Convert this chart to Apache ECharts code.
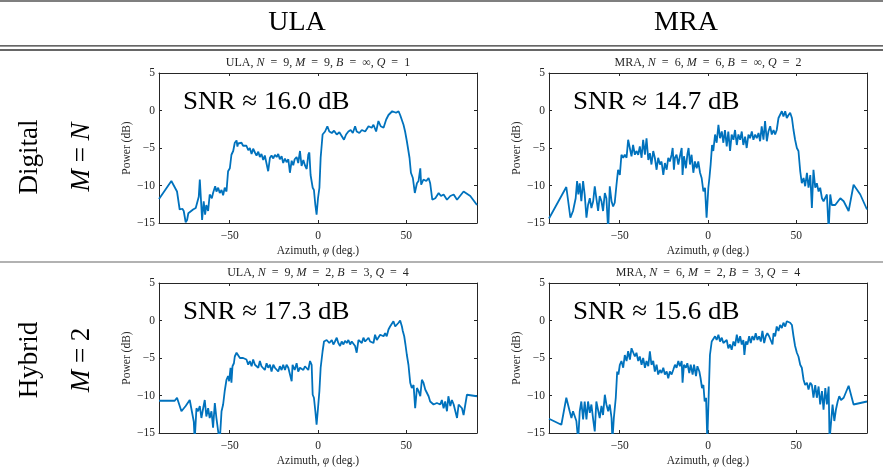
<!DOCTYPE html>
<html>
<head>
<meta charset="utf-8">
<script src="https://cdn.jsdelivr.net/npm/echarts@6/dist/echarts.min.js"></script>
<style>
  html, body { margin: 0; padding: 0; background: #fff; }
  #chart { width: 883px; height: 473px; }
</style>
</head>
<body>
<div id="chart"></div>
<script>
// Angular power spectra (dB) for four array / receiver configurations.
const ulaDigitalAz = [-90,-83,-79.8,-78.3,-76.8,-76,-74.9,-74.1,-73.4,-70.7,-69.2,-67.5,-66.9,-65.6,-64.7,-63.9,-63.2,-62.2,-61.3,-60.1,-59.4,-58.2,-57.5,-56.5,-55.6,-54.6,-53.7,-52.8,-51.8,-50.9,-49.9,-49,-48,-47.1,-46.1,-45.6,-45.2,-44.2,-43.3,-42.4,-41.4,-40.5,-39.5,-38.6,-37.6,-36.7,-35.7,-34.8,-33.8,-32.9,-32,-31,-30.1,-29.1,-28.2,-27.2,-26.3,-25.3,-24.4,-23.4,-22.5,-21.6,-20.6,-19.7,-18.7,-17.8,-16.8,-15.9,-14.9,-14,-13.2,-12.1,-11.2,-10.2,-9.3,-8.3,-7.4,-6.4,-5.5,-4.9,-4.2,-3,-2.3,-1.5,-0.8,0,0.8,1.5,2.6,4,5.3,6.4,7.8,9.1,10.6,12.1,13.4,14.7,15.9,17.2,18.5,19.7,21,21.9,23.4,24.8,26.7,28.6,30.4,31.4,32.9,34.2,35.5,37.1,38.6,39.9,40.8,42,43.1,44.2,45.6,46.5,47.5,48.4,49.3,50.3,51.8,52.6,53.7,54.8,56,56.9,57.9,58.4,59.7,61.3,62.6,63.5,64.7,66.4,68.3,69.6,71.1,73,74.9,76.8,78.7,82.4,86.2,90];
const ulaDigitalPow = [-11.8,-9.4,-10.8,-13.2,-13.1,-13.4,-14.9,-14.6,-13.7,-13.2,-13.0,-11.5,-9.2,-14.6,-12.1,-13.9,-12.6,-13.4,-11.2,-11.7,-11.0,-10.1,-10.8,-10.3,-11.0,-10.6,-11.3,-10.3,-10.8,-8.1,-7.7,-5.9,-5.4,-4.3,-4.0,-4.8,-4.4,-4.5,-4.3,-4.7,-4.5,-4.7,-5.3,-5.0,-5.8,-5.1,-5.6,-6.0,-5.5,-6.2,-5.8,-6.6,-6.0,-5.8,-8.1,-6.3,-6.0,-6.4,-5.9,-6.2,-5.8,-6.5,-6.1,-7.0,-6.4,-6.9,-6.5,-8.3,-6.7,-7.3,-6.5,-6.2,-7.0,-5.4,-7.4,-6.6,-7.3,-7.8,-5.9,-5.6,-8.6,-10.3,-10.6,-12.6,-13.9,-11.7,-10.3,-6.3,-3.2,-2.8,-2.1,-2.8,-3.0,-2.7,-3.2,-2.9,-3.4,-3.9,-3.2,-2.8,-2.6,-3.0,-2.1,-2.8,-3.0,-2.6,-2.8,-2.1,-2.3,-1.9,-2.8,-1.4,-2.1,-2.3,-1.2,-0.6,-0.8,-0.1,0,-0.3,-0.1,-0.6,-0.8,-1.9,-2.8,-4.1,-6.3,-8.3,-9.0,-11.0,-9.7,-9.4,-7.7,-9.9,-9.2,-9.4,-9.0,-9.7,-11.9,-11.7,-11.0,-11.4,-11.2,-11.9,-11.4,-11.2,-11.9,-10.8,-11.4,-12.6];

const mraDigitalAz = [-90,-80.2,-77.9,-76.4,-74.9,-74.1,-73.4,-72.6,-71.7,-70.7,-69.8,-68.8,-67.9,-66.9,-66,-65,-64.1,-63.2,-62.2,-61.3,-60.3,-59.4,-58.4,-57.5,-56.5,-55.6,-54.6,-53.7,-52.8,-51.8,-50.9,-49.9,-49,-48,-47.1,-46.1,-45.2,-44.2,-43.3,-42.4,-41.4,-40.5,-39.5,-38.6,-37.6,-36.7,-35.7,-34.8,-33.8,-32.9,-32,-31,-30.1,-29.1,-28.2,-27.2,-26.3,-25.3,-24.4,-23.4,-22.5,-21.6,-20.6,-20,-19.3,-18.7,-17.8,-16.8,-15.9,-14.9,-14.4,-13.6,-12.5,-11.7,-11,-10.2,-9.3,-8.3,-7.4,-6.4,-5.5,-4.5,-3.6,-2.6,-1.7,-0.8,0.2,0.8,1.5,2.3,3,4,4.9,5.9,6.8,7.8,8.7,9.6,10.6,11.5,12.5,13.4,14.4,15.3,16.3,17.2,18.2,19.1,20,21,21.9,22.9,23.8,24.8,25.7,26.7,27.6,28.6,29.5,30.4,31.4,32.3,33.3,34.2,35.2,36.1,37.1,38,38.9,39.9,40.8,41.8,42.7,43.7,44.6,45.6,46.5,47.5,48.4,49.3,50.3,51.2,52.2,53.1,54.1,55,56,56.9,57.9,58.8,59.7,60.7,61.6,62.6,63.5,64.5,65.4,67.3,68.3,69.2,70.1,72,74.9,76.8,79.6,82.4,86.2,90];
const mraDigitalPow = [-14.4,-10.2,-14.3,-13.4,-11.7,-9.4,-11.2,-9.7,-12.1,-9.4,-11.2,-14.3,-12.6,-11.7,-13.0,-12.1,-10.1,-11.7,-13.4,-11.4,-12.1,-13.4,-11.0,-11.7,-16,-10.1,-12.1,-12.8,-12.3,-9.9,-7.9,-8.6,-5.9,-6.3,-5.9,-6.3,-3.9,-4.1,-6.1,-4.6,-5.9,-5.4,-5.9,-4.8,-6.3,-3.9,-5.9,-3.7,-6.6,-5.7,-7.2,-5.4,-6.3,-7.9,-6.3,-7.2,-6.8,-8.6,-7.0,-7.9,-6.3,-6.8,-5.9,-5.0,-7.9,-6.3,-5.9,-7.2,-6.1,-5.0,-8.6,-6.1,-7.7,-5.9,-5.0,-7.2,-5.9,-8.3,-6.8,-7.7,-6.8,-8.3,-9.0,-10.8,-10.3,-14.3,-10.3,-9.0,-7.2,-4.6,-5.4,-3.2,-4.3,-1.9,-3.7,-2.8,-4.3,-2.6,-4.8,-2.8,-5.4,-3.2,-3.9,-2.6,-4.6,-3.2,-3.9,-2.8,-4.6,-3.5,-5.0,-3.2,-3.7,-2.8,-3.9,-3.2,-3.7,-3.0,-4.1,-2.1,-3.9,-1.4,-4.1,-2.8,-2.1,-3.2,-2.6,-3.2,-2.6,-1.0,-1.2,-0.1,-0.8,-0.1,-1.0,-0.6,-0.3,-1.0,-2.6,-3.9,-5.0,-5.4,-8.1,-9.7,-9.0,-10.1,-8.3,-10.3,-8.6,-13.0,-7.9,-10.3,-9.7,-10.8,-10.3,-11.7,-12.1,-11.2,-16,-11.2,-12.6,-12.6,-11.7,-12.1,-13.4,-9.9,-11.2,-13.2];

const ulaHybridAz = [-90,-81.1,-79.8,-77.3,-74.9,-72.6,-71.7,-70.3,-69.8,-68.8,-67.9,-66.9,-66,-65,-64.1,-63.2,-62.2,-61.3,-60.3,-59.4,-58.4,-57.5,-56.5,-55.6,-54.6,-53.7,-52.8,-51.8,-50.9,-50.3,-49.5,-49,-48.4,-47.6,-47.1,-46.1,-45.2,-44.2,-43.3,-42.4,-40.5,-39.5,-38.6,-37.6,-36.7,-35.7,-34.8,-33.8,-32.9,-32,-31,-30.1,-29.1,-28.2,-27.2,-26.3,-25.3,-24.4,-23.4,-22.5,-21.6,-20.6,-19.7,-18.7,-17.8,-16.8,-15.9,-14.9,-14.4,-13.2,-12.1,-11.2,-10.2,-9.3,-8.3,-7.4,-6.4,-5.5,-4.5,-3.6,-3,-2.3,-1.5,-0.8,0,0.8,1.5,2.6,3.4,4.9,6.4,7.8,8.7,9.6,10.6,11.5,12.5,13.4,14.4,15.3,16.3,17.2,18.2,19.1,20,21,21.9,22.9,23.8,24.8,25.7,26.7,27.6,28.6,29.5,30.4,31.4,32.3,33.3,35.2,37.1,38,38.9,39.9,40.8,41.8,42.7,43.7,44.6,45.6,46.5,47.5,48,48.8,49.5,50.3,51.2,52.2,53.1,54.1,55,56,56.9,57.9,58.8,59.7,60.7,61.6,62.6,63.5,65.4,67.3,68.3,69.2,70.1,71.1,72,73,73.8,74.9,75.8,76.8,78.7,79.6,80.5,81.5,82.4,84.3,90];
const ulaHybridPow = [-10.7,-10.7,-10.3,-12.1,-11.4,-10.6,-10.8,-13.5,-16,-11.7,-12.1,-11.4,-13.0,-11.7,-10.6,-12.8,-11.7,-13.0,-12.1,-14.3,-11.0,-13.0,-14.8,-16,-12.1,-11.2,-9.4,-7.9,-7.4,-8.1,-6.3,-8.3,-6.1,-5.7,-4.8,-4.3,-4.1,-5.0,-5.2,-5.0,-5.2,-5.9,-5.4,-6.1,-5.2,-5.9,-5.7,-6.3,-5.4,-6.1,-5.9,-6.6,-5.7,-6.3,-5.9,-6.8,-5.9,-6.3,-6.1,-6.8,-6.1,-6.6,-5.9,-6.6,-5.9,-6.3,-6.1,-8.1,-5.9,-6.6,-5.7,-6.8,-6.3,-6.1,-6.6,-6.1,-6.3,-6.6,-5.4,-5.9,-9.9,-10.3,-12.1,-13.9,-11.7,-9.4,-6.3,-4.1,-2.8,-2.6,-3.0,-2.6,-3.2,-2.8,-2.3,-3.0,-3.4,-2.8,-3.2,-2.7,-3.0,-2.6,-3.2,-2.8,-3.0,-3.4,-4.3,-2.6,-2.8,-3.0,-2.3,-2.8,-2.6,-2.3,-2.8,-2.6,-3.0,-1.9,-2.6,-1.9,-2.1,-1.7,-2.1,-1.2,-0.8,-0.8,-0.1,-0.8,-0.6,-0.3,0,-0.8,-1.4,-2.1,-3.2,-4.6,-5.9,-8.3,-9.0,-8.6,-11.7,-9.0,-9.4,-10.1,-7.9,-8.3,-9.2,-9.4,-10.1,-10.8,-11.2,-11.0,-10.8,-11.2,-10.6,-11.7,-10.8,-12.1,-10.1,-11.4,-10.6,-11.2,-13.0,-11.2,-11.2,-11.7,-12.6,-9.9,-10.1];

const mraHybridAz = [-90,-83,-80.2,-78.3,-77.3,-76.4,-75.4,-74.5,-73.5,-72.6,-71.7,-70.7,-69.8,-68.8,-67.9,-66.9,-66,-65,-64.1,-63.2,-62.2,-61.3,-60.3,-59.4,-58.4,-57.5,-56.5,-55.6,-54.6,-54.1,-53.3,-52.2,-51.4,-50.7,-49.9,-49,-48,-47.1,-46.1,-45.2,-44.2,-43.3,-42.4,-41.4,-40.5,-39.5,-38.6,-37.6,-36.7,-35.7,-34.8,-33.8,-32.9,-32,-31,-30.1,-29.1,-28.2,-27.2,-26.3,-25.3,-24.4,-23.4,-22.5,-21.6,-20.6,-19.7,-18.7,-17.8,-16.8,-15.9,-14.9,-14.4,-13.6,-12.5,-11.7,-10.6,-9.8,-8.7,-7.9,-6.8,-6,-4.9,-4.2,-3.4,-2.6,-1.9,-1.1,-0.4,0.4,1.1,2.1,3,4,4.9,5.9,6.8,7.8,8.7,9.6,10.6,11.5,12.5,13.4,14.4,15.3,16.3,17.2,18.2,19.1,20,20.6,21.4,22.3,23.3,24.2,25.1,26.1,27,28,28.9,29.9,30.8,31.8,32.7,33.6,34.6,35.5,36.5,37.1,38,38.9,39.9,40.8,41.8,42.7,43.7,44.6,45.6,46.5,47.5,48.4,49.3,50.3,51.2,52.2,53.1,54.1,55,56,56.9,57.9,58.8,59.7,60.7,61.6,62.6,63.5,64.5,65.4,66.4,67.3,68.3,68.8,69.6,70.5,71.5,72.4,73.4,74.3,75.3,76.8,79.6,82.4,90];
const mraHybridPow = [-13.1,-13.9,-10.3,-12.1,-13.0,-12.1,-12.3,-13.4,-16,-12.1,-10.8,-13.2,-10.8,-13.2,-10.8,-12.3,-11.2,-13.2,-14.8,-10.8,-10.6,-13.0,-11.4,-12.6,-9.9,-11.2,-12.1,-11.2,-13.0,-16,-13.0,-10.3,-6.8,-7.2,-5.9,-5.4,-6.3,-4.6,-5.4,-4.1,-5.2,-3.7,-3.9,-4.8,-4.3,-5.4,-4.8,-5.9,-5.0,-6.3,-5.4,-6.1,-4.1,-5.9,-5.4,-6.8,-5.9,-7.2,-6.6,-7.0,-6.3,-7.2,-6.8,-7.7,-6.8,-7.2,-6.6,-5.9,-6.3,-5.4,-6.1,-5.4,-8.3,-5.9,-6.3,-5.7,-7.0,-5.9,-7.2,-5.9,-7.4,-6.1,-6.8,-7.7,-9.0,-8.6,-10.8,-10.3,-16,-16,-4.6,-2.8,-3.0,-2.1,-2.6,-1.9,-2.8,-2.3,-3.0,-3.2,-2.6,-3.7,-3.2,-3.9,-2.8,-3.4,-1.9,-3.0,-2.1,-3.2,-2.6,-4.6,-2.8,-3.2,-2.1,-3.0,-2.1,-2.6,-1.7,-2.6,-2.1,-2.8,-1.4,-3.0,-2.1,-1.7,-2.1,-1.9,-3.2,-1.7,-2.1,-0.8,-1.4,-0.6,-1.0,-0.3,-0.8,-0.1,0,-0.3,-0.6,-2.1,-3.4,-4.3,-4.8,-5.9,-6.3,-7.9,-8.6,-8.3,-9.2,-8.3,-8.6,-10.3,-8.6,-10.3,-8.8,-11.2,-9.4,-11.9,-9.0,-11.2,-8.8,-16,-16,-11.2,-13.4,-11.9,-10.8,-10.1,-10.6,-10.3,-8.7,-11.2,-10.8];

// Panel descriptions, in reading order (row by row).
const arrayNames = ['ULA', 'MRA', 'ULA', 'MRA'];
const nValues = ['9', '6', '9', '6'];
const mValues = ['9', '6', '2', '2'];
const bValues = ['\u221E', '\u221E', '3', '3'];
const qValues = ['1', '2', '4', '4'];
const snrValues = [16.0, 14.7, 17.3, 15.6];
const columnHeaders = ['ULA', 'MRA'];
const rowHeaders = ['Digital', 'Hybrid'];
const rowConditions = ['N', '2'];
const xTickValues = [-50, 0, 50];

const azimuths = [ulaDigitalAz, mraDigitalAz, ulaHybridAz, mraHybridAz];
const powers = [ulaDigitalPow, mraDigitalPow, ulaHybridPow, mraHybridPow];

const SERIF = '"Liberation Serif", "DejaVu Serif", serif';
const INK = '#262626';
const LINE_BLUE = '#0072BD';

const plotLefts = [159, 549];
const plotTops = [73, 283];
const plotW = 318, plotH = 150;

const minusSign = v => String(v).replace('-', '\u2212');
const EQ = '\u2002=\u2002';

const grids = [], xAxes = [], yAxes = [], series = [], graphics = [];
const axisLineStyle = { show: true, onZero: false, lineStyle: { color: INK, width: 1 } };

for (let i = 0; i < 4; i++) {
  const col = i % 2, row = Math.floor(i / 2);
  const left = plotLefts[col], top = plotTops[row];
  grids.push({ left, top, width: plotW, height: plotH, containLabel: false, outerBoundsMode: 'none' });

  // Bottom / left axes carry labels; top / right axes close the box.
  xAxes.push({
    gridIndex: i, type: 'value', min: -90, max: 90, position: 'bottom',
    name: '{n|Azimuth, }{i|\u03C6}{n| (deg.)}',
    nameLocation: 'middle', nameGap: 22,
    nameTextStyle: {
      rich: {
        n: { fontFamily: SERIF, fontSize: 11.5, color: INK },
        i: { fontFamily: SERIF, fontSize: 11.5, fontStyle: 'italic', color: INK }
      }
    },
    axisLine: axisLineStyle,
    axisTick: { show: true, inside: true, length: 3, customValues: xTickValues, lineStyle: { color: INK } },
    axisLabel: { customValues: xTickValues, formatter: minusSign, fontFamily: SERIF, fontSize: 11.5, color: INK, margin: 7 },
    splitLine: { show: false }
  });
  yAxes.push({
    gridIndex: i, type: 'value', min: -15, max: 5, interval: 5, position: 'left',
    name: 'Power (dB)', nameLocation: 'middle', nameGap: 26,
    nameTextStyle: { fontFamily: SERIF, fontSize: 11.5, color: INK },
    axisLine: axisLineStyle,
    axisTick: { show: true, inside: true, length: 3, lineStyle: { color: INK } },
    axisLabel: { formatter: minusSign, fontFamily: SERIF, fontSize: 11.5, color: INK, margin: 4 },
    splitLine: { show: false }
  });

  series.push({
    type: 'line', xAxisIndex: i, yAxisIndex: i,
    data: azimuths[i].map((a, k) => [a, powers[i][k]]),
    showSymbol: false, clip: true, animation: false,
    lineStyle: { color: LINE_BLUE, width: 1.8 },
    itemStyle: { color: LINE_BLUE }
  });

  // Panel title with italic parameter symbols.
  const r = { fontFamily: SERIF, fontSize: 12, fill: INK };
  const it = { fontFamily: SERIF, fontSize: 12, fill: INK, fontStyle: 'italic' };
  graphics.push({
    type: 'text', x: left + plotW / 2, y: top - 10,
    style: {
      text: `{r|${arrayNames[i]}, }{i|N}{r|${EQ}${nValues[i]}, }{i|M}{r|${EQ}${mValues[i]}, }{i|B}{r|${EQ}${bValues[i]}, }{i|Q}{r|${EQ}${qValues[i]}}`,
      rich: { r, i: it }, align: 'center', verticalAlign: 'middle'
    }
  });

  // SNR annotation in the upper-left of each panel.
  graphics.push({
    type: 'text', x: left + 24, y: top + 29, scaleX: 1.04,
    style: {
      text: `SNR \u2248 ${snrValues[i].toFixed(1)} dB`,
      fontFamily: SERIF, fontSize: 26, fill: '#000',
      align: 'left', verticalAlign: 'middle'
    }
  });
}

for (let i = 0; i < 4; i++) {
  xAxes.push({
    gridIndex: i, type: 'value', min: -90, max: 90, position: 'top',
    axisLine: axisLineStyle,
    axisTick: { show: true, inside: true, length: 3, customValues: xTickValues, lineStyle: { color: INK } },
    axisLabel: { show: false }, splitLine: { show: false }
  });
  yAxes.push({
    gridIndex: i, type: 'value', min: -15, max: 5, interval: 5, position: 'right',
    axisLine: axisLineStyle,
    axisTick: { show: true, inside: true, length: 3, lineStyle: { color: INK } },
    axisLabel: { show: false }, splitLine: { show: false }
  });
}

// Table rules and headers.
const rule = (y, w, c) => ({ type: 'line', shape: { x1: 0, y1: y, x2: 883, y2: y }, style: { stroke: c, lineWidth: w } });
graphics.push(rule(1, 1.2, '#000'));
graphics.push(rule(45.8, 1.3, '#333'));
graphics.push(rule(50, 1.3, '#333'));
graphics.push(rule(262, 1.2, '#666'));

const headerX = [297, 686];
columnHeaders.forEach((h, c) => {
  graphics.push({
    type: 'text', x: headerX[c], y: 23,
    style: { text: h, fontFamily: SERIF, fontSize: 28, fill: '#000', align: 'center', verticalAlign: 'middle' }
  });
});

const rowCenters = [157, 360];
rowHeaders.forEach((h, r) => {
  graphics.push({
    type: 'text', x: 30, y: rowCenters[r], rotation: Math.PI / 2,
    style: { text: h, fontFamily: SERIF, fontSize: 27, fill: '#000', align: 'center', verticalAlign: 'middle' }
  });
  graphics.push({
    type: 'text', x: 82, y: rowCenters[r], rotation: Math.PI / 2,
    style: {
      text: `{i|M}{r| = }{${rowConditions[r] === 'N' ? 'i' : 'r'}|${rowConditions[r]}}`,
      rich: {
        i: { fontFamily: SERIF, fontSize: 27, fontStyle: 'italic', fill: '#000' },
        r: { fontFamily: SERIF, fontSize: 27, fill: '#000' }
      },
      align: 'center', verticalAlign: 'middle'
    }
  });
});

const chart = echarts.init(document.getElementById('chart'), null, { renderer: 'canvas' });
chart.setOption({
  animation: false,
  backgroundColor: '#fff',
  grid: grids,
  xAxis: xAxes,
  yAxis: yAxes,
  series,
  graphic: { elements: graphics }
});
</script>
</body>
</html>
